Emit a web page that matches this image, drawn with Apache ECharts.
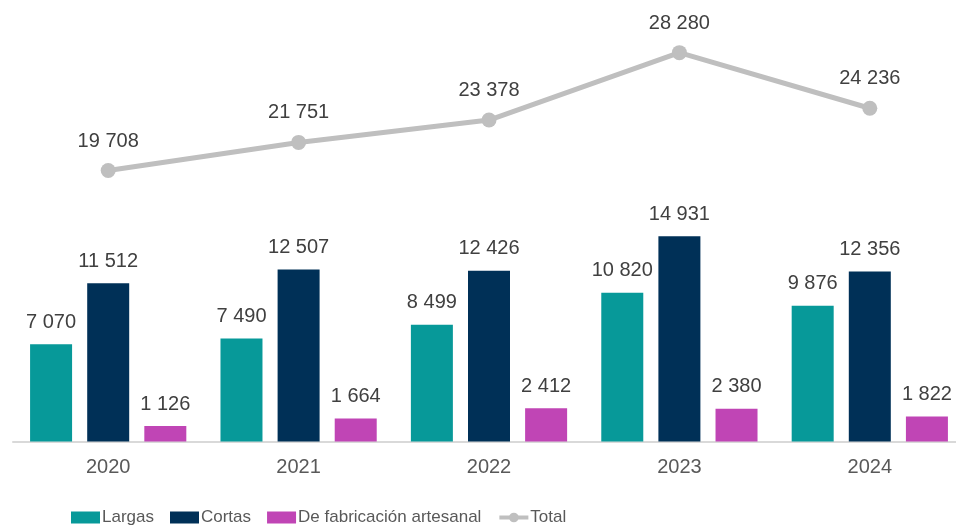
<!DOCTYPE html>
<html>
<head>
<meta charset="utf-8">
<script src="https://cdn.jsdelivr.net/npm/echarts@6/dist/echarts.min.js"></script>
<style>
  html, body { margin: 0; padding: 0; background: #fff; overflow: hidden; }
  /* the source chart runs a little past the right edge, so the canvas is wider than the window */
  #chart { width: 966px; height: 527px; }
</style>
</head>
<body>
<div id="chart"></div>
<script>
var years = ["2020", "2021", "2022", "2023", "2024"];
var largas = [7070, 7490, 8499, 10820, 9876];
var cortas = [11512, 12507, 12426, 14931, 12356];
var artesanal = [1126, 1664, 2412, 2380, 1822];
var total = [19708, 21751, 23378, 28280, 24236];

// thousands with a space, as in the source
function fmt(p) {
  return String(p.value).replace(/\B(?=(\d{3})+(?!\d))/g, " ");
}

var labelStyle = {
  show: true,
  position: "top",
  distance: 12,
  color: "#404040",
  fontSize: 20,
  fontFamily: "Liberation Sans, Arial, sans-serif",
  formatter: fmt
};

var chart = echarts.init(document.getElementById("chart"));
chart.setOption({
  animation: false,
  grid: {
    left: 13,
    top: 29,
    width: 952,
    height: 412.5
  },
  legend: {
    left: 66,
    top: 504,
    itemWidth: 29,
    itemHeight: 12,
    itemGap: 16,
    textStyle: {
      color: "#595959",
      fontSize: 17,
      padding: [0, 0, 0, -3],
      fontFamily: "Liberation Sans, Arial, sans-serif"
    },
    data: [
      { name: "Largas", icon: "rect" },
      { name: "Cortas", icon: "rect" },
      { name: "De fabricación artesanal", icon: "rect" },
      { name: "Total", lineStyle: { width: 4 } }
    ]
  },
  xAxis: {
    type: "category",
    data: years,
    axisTick: { show: false },
    axisLine: { lineStyle: { color: "#d9d9d9", width: 2 } },
    axisLabel: {
      color: "#595959",
      fontSize: 20,
      margin: 16,
      fontFamily: "Liberation Sans, Arial, sans-serif"
    }
  },
  yAxis: {
    type: "value",
    min: 0,
    max: 30000,
    show: false,
    splitLine: { show: false }
  },
  series: [
    {
      name: "Largas",
      type: "bar",
      barWidth: 42,
      barGap: "36%",
      itemStyle: { color: "#079999" },
      label: labelStyle,
      data: largas
    },
    {
      name: "Cortas",
      type: "bar",
      barWidth: 42,
      barGap: "36%",
      itemStyle: { color: "#003057" },
      label: labelStyle,
      data: cortas
    },
    {
      name: "De fabricación artesanal",
      type: "bar",
      barWidth: 42,
      barGap: "36%",
      itemStyle: { color: "#c045b5" },
      label: labelStyle,
      data: artesanal
    },
    {
      name: "Total",
      type: "line",
      symbol: "circle",
      symbolSize: 15,
      lineStyle: { color: "#bfbfbf", width: 5 },
      itemStyle: { color: "#bfbfbf" },
      label: labelStyle,
      data: total
    }
  ]
});
</script>
</body>
</html>
